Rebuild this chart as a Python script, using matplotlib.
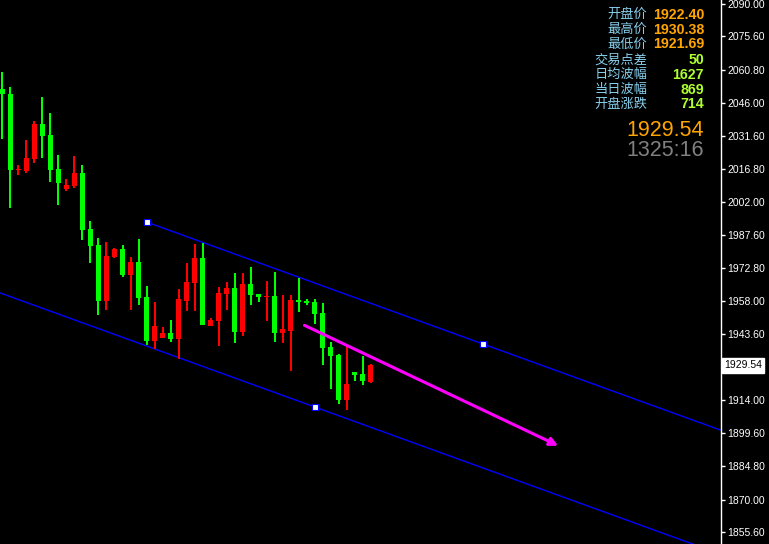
import matplotlib
matplotlib.use('Agg')
import matplotlib.pyplot as plt
from matplotlib.transforms import blended_transform_factory
import numpy as np

# OHLC values (red = up, green = down)
opens = [2052.27, 2050.05, 2016.20, 2016.00, 2021.32, 2036.73, 2031.84, 2016.75, 2008.01, 2009.34,
         2014.98, 1990.12, 1983.01, 1958.29, 1977.82, 1981.10, 1969.83, 1975.47, 1959.93, 1940.53,
         1941.86, 1943.95, 1941.28, 1958.29, 1966.28, 1977.24, 1947.19, 1949.41, 1961.39, 1963.92,
         1944.52, 1965.83, 1961.39, 1960.10, 1960.37, 1944.08, 1944.97, 1958.60, 1958.02, 1957.71,
         1952.83, 1937.60, 1934.18, 1914.34, 1926.63, 1925.75, 1922.40]
highs = [2059.81, 2053.15, 2018.53, 2029.63, 2038.06, 2048.71, 2041.61, 2022.97, 2012.31, 2022.52,
         2018.53, 1993.67, 1986.12, 1984.34, 1981.55, 1983.01, 1977.69, 1985.68, 1964.81, 1957.71,
         1946.61, 1949.72, 1963.35, 1975.02, 1983.46, 1984.03, 1950.61, 1964.37, 1966.59, 1970.58,
         1970.58, 1973.25, 1961.39, 1967.03, 1971.03, 1960.82, 1960.82, 1968.36, 1958.91, 1958.91,
         1957.27, 1939.82, 1934.62, 1938.04, 1926.63, 1933.74, 1930.38]
lows = [2030.20, 1999.57, 2014.22, 2015.11, 2019.55, 2021.77, 2011.11, 2000.90, 2007.12, 2008.45,
        1985.37, 1975.15, 1952.07, 1954.29, 1977.37, 1968.94, 1954.29, 1956.51, 1938.75, 1936.84,
        1941.70, 1940.08, 1932.40, 1953.71, 1953.85, 1947.50, 1947.00, 1938.31, 1954.29, 1939.64,
        1942.75, 1956.51, 1957.84, 1949.41, 1940.08, 1939.64, 1927.08, 1953.40, 1956.51, 1948.08,
        1929.87, 1919.22, 1912.56, 1909.90, 1922.77, 1921.00, 1921.69]
closes = [2050.05, 2016.44, 2016.40, 2021.63, 2036.73, 2031.53, 2016.44, 2010.67, 2009.65, 2014.98,
          1989.80, 1982.70, 1958.29, 1978.13, 1981.10, 1969.83, 1975.47, 1959.62, 1940.53, 1947.05,
          1943.95, 1941.28, 1959.04, 1966.59, 1977.24, 1947.63, 1949.72, 1961.70, 1963.92, 1944.52,
          1965.83, 1960.95, 1960.06, 1960.40, 1944.08, 1945.72, 1958.60, 1957.84, 1957.40, 1952.51,
          1937.42, 1933.87, 1914.34, 1921.31, 1925.43, 1922.77, 1929.54]

# equidistant channel anchors (bar index, price)
chan_upper = [(18, 1993.22), (60, 1939.06)]
chan_lower_pt = (39, 1911.10)
# forecast arrow
arrow_start = (37.71, 1947.37)
arrow_end = (69.38, 1893.92)

tick_values = [2090.00, 2075.60, 2060.80, 2046.00, 2031.60, 2016.80, 2002.00, 1987.60,
               1972.80, 1958.00, 1943.60, 1914.00, 1899.60, 1884.80, 1870.00, 1855.60]
tick_labels = ['%.2f' % v for v in tick_values]
last_price = '1929.54'

info_names = ['开盘价', '最高价', '最低价', '交易点差', '日均波幅', '当日波幅', '开盘涨跌']
info_values = ['1922.40', '1930.38', '1921.69', '50', '1627', '869', '714']
info_colors = ['#FFA500'] * 3 + ['#ADFF2F'] * 4
big_price = '1929.54'
countdown = '1325:16'

W, H = 769, 544
fig = plt.figure(figsize=(W / 100, H / 100), dpi=100, facecolor='black')
ax = fig.add_axes([0, 0, 721 / W, 1])
ax.set_facecolor('black')

x = np.arange(len(opens))
o = np.array(opens)
c = np.array(closes)
up = c >= o
cols = np.where(up, '#FF0000', '#00FF00')

ax.vlines(x, lows, highs, colors=cols, linewidth=1.1, antialiased=False, zorder=2)
bottoms = np.minimum(o, c)
heights = np.maximum(np.abs(c - o), 0.45)
ax.bar(x, heights, bottom=bottoms, width=0.62, color=cols, linewidth=0, zorder=3)

xmin, xmax = -0.29, 89.7
ax.set_xlim(xmin, xmax)
ax.set_ylim(1850.28, 2091.78)

# channel
(x1, y1), (x2, y2) = chan_upper
slope = (y2 - y1) / (x2 - x1)
ax.plot([x1, xmax], [y1, y1 + slope * (xmax - x1)], color='#0000FF', lw=1, zorder=1)
lx, ly = chan_lower_pt
ax.plot([xmin, xmax], [ly + slope * (xmin - lx), ly + slope * (xmax - lx)],
        color='#0000FF', lw=1, zorder=1)
ax.plot([x1, x2, lx], [y1, y2, ly], linestyle='none', marker='s', markersize=4,
        markerfacecolor='white', markeredgecolor='#0000FF', markeredgewidth=0.8, zorder=4)

ax.annotate('', xy=arrow_end, xytext=arrow_start,
            arrowprops=dict(arrowstyle='-|>', color='#FF00FF', lw=2.2,
                            mutation_scale=12, shrinkA=0, shrinkB=0), zorder=5)

# price axis on the right
for s in ['top', 'left', 'bottom']:
    ax.spines[s].set_visible(False)
ax.spines['right'].set_color('white')
ax.spines['right'].set_linewidth(1)
ax.set_xticks([])
ax.yaxis.tick_right()
ax.set_yticks(tick_values)
ax.set_yticklabels(tick_labels)
ax.tick_params(axis='y', colors='white', length=3, width=1, pad=1.5,
               labelsize=7.5, direction='out')
for lab in ax.get_yticklabels():
    lab.set_family('Liberation Sans')

tr = blended_transform_factory(ax.transAxes, ax.transData)
ax.text(1.004, float(last_price), last_price, transform=tr, ha='left', va='center',
        fontsize=7.5, family='Liberation Sans', color='black', clip_on=False,
        bbox=dict(boxstyle='square,pad=0.2', facecolor='white', edgecolor='white'))

# info panel
def fx(px):
    return px / W

def fy(py):
    return 1 - py / H

row_y = [14.7, 29.7, 44.3, 59.7, 74.7, 89.5, 104.3]
for name, val, col, yy in zip(info_names, info_values, info_colors, row_y):
    fig.text(fx(647.5), fy(yy), name, ha='right', va='center', fontsize=9.5,
             color='#87CEEB', family=['Noto Sans CJK SC', 'DejaVu Sans'])
    fig.text(fx(704), fy(yy), val, ha='right', va='center', fontsize=10.2,
             fontweight='bold', color=col, family='Liberation Sans')

fig.text(fx(704), fy(130.5), big_price, ha='right', va='center', fontsize=15.5,
         color='#FFA500', family='Liberation Sans')
fig.text(fx(704), fy(150.5), countdown, ha='right', va='center', fontsize=15.5,
         color='#808080', family='Liberation Sans')

fig.savefig('out.png', dpi=100, facecolor='black')
